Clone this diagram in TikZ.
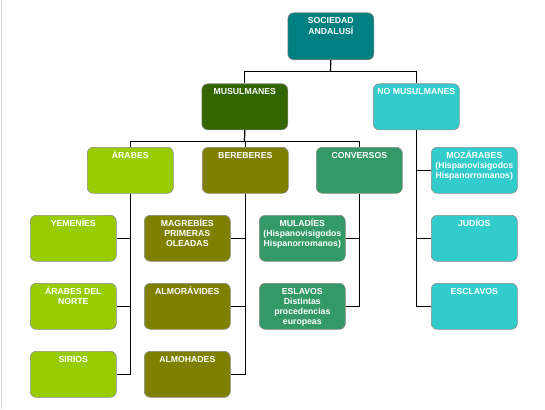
\documentclass[tikz,border=0pt]{standalone}
\usepackage{fontspec}
\setmainfont{Liberation Sans}
\definecolor{cteal}{HTML}{008080}
\definecolor{cmus}{HTML}{336600}
\definecolor{cnomus}{HTML}{33CCCC}
\definecolor{carab}{HTML}{99CC00}
\definecolor{cber}{HTML}{808000}
\definecolor{cconv}{HTML}{339966}
\definecolor{cedge}{HTML}{D8D8F0}
\newcommand\bxt[1]{\parbox[c][40pt][t]{84pt}{\centering\rule{0pt}{7.7pt}#1}}
\tikzset{
  box/.style={draw=black!45, line width=0.6pt, rounded corners=6pt, anchor=north west,
    minimum width=86pt, minimum height=46pt, inner sep=1pt, inner ysep=3pt,
    text=white, font=\fontsize{8.7pt}{10.3pt}\selectfont\bfseries},
  conn/.style={draw=black, line width=1.2pt}
}
\begin{document}
\begin{tikzpicture}[x=1pt,y=-1pt]
\useasboundingbox (0,0) rectangle (545,409);
\fill[cedge] (0.5,0) rectangle (2,409);
% level 0
\node[box, fill=cteal, minimum height=47pt] (soc) at (287.5,12.5) {\bxt{SOCIEDAD\\ANDALUSÍ}};
% level 1
\node[box, fill=cmus] (mus) at (201.5,83.5) {\bxt{MUSULMANES}};
\node[box, fill=cnomus] (nomus) at (373,83.5) {\bxt{NO MUSULMANES}};
% level 2
\node[box, fill=carab] (arab) at (87,147) {\bxt{ÁRABES}};
\node[box, fill=cber] (ber) at (202,147) {\bxt{BEREBERES}};
\node[box, fill=cconv] (conv) at (316,147) {\bxt{CONVERSOS}};
\node[box, fill=cnomus] (moz) at (431,147) {\bxt{MOZÁRABES\\(Hispanovisigodos\\Hispanorromanos)}};
% level 3
\node[box, fill=carab] (yem) at (30,215) {\bxt{YEMENÍES}};
\node[box, fill=cber] (mag) at (144,215) {\bxt{MAGREBÍES\\PRIMERAS\\OLEADAS}};
\node[box, fill=cconv] (mul) at (259,215) {\bxt{MULADÍES\\(Hispanovisigodos\\Hispanorromanos)}};
\node[box, fill=cnomus] (jud) at (431,215) {\bxt{JUDÍOS}};
% level 4
\node[box, fill=carab] (arn) at (30,283) {\bxt{ÁRABES DEL\\NORTE}};
\node[box, fill=cber] (alv) at (144,283) {\bxt{ALMORÁVIDES}};
\node[box, fill=cconv] (esl) at (259,283) {\bxt{ESLAVOS\\Distintas\\procedencias\\europeas}};
\node[box, fill=cnomus] (esc) at (431,283) {\bxt{ESCLAVOS}};
% level 5
\node[box, fill=carab] (sir) at (30,351) {\bxt{SIRIOS}};
\node[box, fill=cber] (alh) at (144,351) {\bxt{ALMOHADES}};
% connectors
\coordinate (j0) at (330.5,71.3);
\coordinate (j1) at (244.5,141.8);
\draw[conn] (soc.south) -- (j0);
\draw[conn] (j0) -| (mus.north);
\draw[conn] (j0) -| (nomus.north);
\draw[conn] (mus.south) -- (j1);
\draw[conn] (j1) -| (arab.north);
\draw[conn] (j1) -| (ber.north);
\draw[conn] (j1) -| (conv.north);
\draw[conn] (yem.east) -| (arab.south);
\draw[conn] (arn.east) -| (arab.south);
\draw[conn] (sir.east) -| (arab.south);
\draw[conn] (mag.east) -| (ber.south);
\draw[conn] (alv.east) -| (ber.south);
\draw[conn] (alh.east) -| (ber.south);
\draw[conn] (mul.east) -| (conv.south);
\draw[conn] (esl.east) -| (conv.south);
\draw[conn] (moz.west) -| (nomus.south);
\draw[conn] (jud.west) -| (nomus.south);
\draw[conn] (esc.west) -| (nomus.south);
\end{tikzpicture}
\end{document}
